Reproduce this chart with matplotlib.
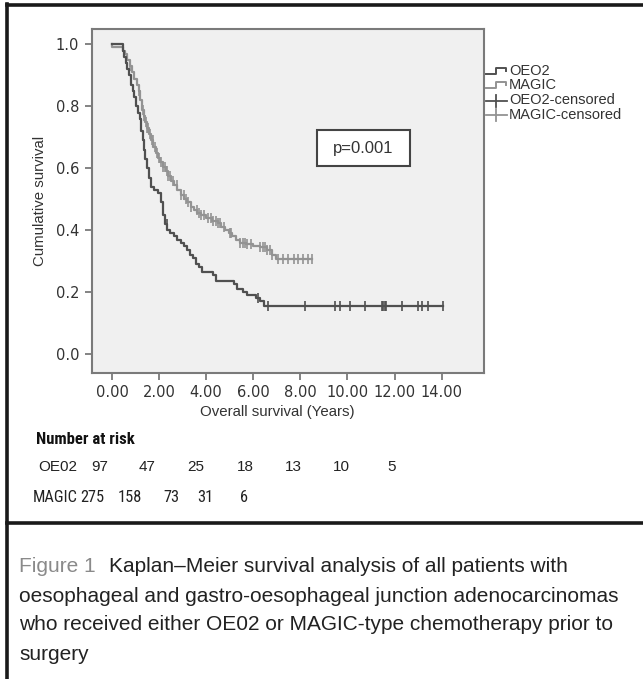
import numpy as np
import matplotlib
matplotlib.use('Agg')
import matplotlib.pyplot as plt
from matplotlib.lines import Line2D
from matplotlib.patches import Rectangle
from matplotlib import font_manager as fm

# ---------------- data ----------------
oeo2_t = [0.0, 0.45, 0.52, 0.58, 0.64, 0.72, 0.80, 0.88, 0.95, 1.02, 1.10, 1.18,
          1.24, 1.30, 1.36, 1.42, 1.50, 1.58, 1.66, 1.80, 1.96, 2.08, 2.16, 2.24,
          2.34, 2.45, 2.62, 2.78, 2.92, 3.05, 3.18, 3.32, 3.45, 3.58, 3.70, 3.82,
          4.30, 4.42, 5.20, 5.30, 5.55, 5.75, 6.10, 6.30, 6.45]
oeo2_s = [1.0, 0.98, 0.96, 0.94, 0.92, 0.90, 0.87, 0.85, 0.83, 0.80, 0.78, 0.76,
          0.72, 0.69, 0.66, 0.63, 0.60, 0.57, 0.54, 0.53, 0.52, 0.49, 0.45, 0.42,
          0.40, 0.39, 0.38, 0.37, 0.36, 0.35, 0.335, 0.32, 0.31, 0.29, 0.28, 0.265,
          0.255, 0.235, 0.225, 0.21, 0.20, 0.19, 0.18, 0.17, 0.157]
oeo2_end = 14.04
oeo2_cens = [2.33, 6.22, 6.64, 8.20, 9.47, 9.69, 10.11, 10.75, 11.45, 11.52, 11.60,
             11.65, 12.30, 13.0, 13.15, 13.43, 14.04]

magic_t = [0.0, 0.02, 0.45, 0.55, 0.65, 0.75, 0.85, 0.95, 1.05, 1.13, 1.20, 1.27,
           1.34, 1.41, 1.50, 1.58, 1.66, 1.76, 1.86, 1.96, 2.06, 2.16, 2.28, 2.40,
           2.52, 2.64, 2.78, 2.92, 3.06, 3.20, 3.34, 3.48, 3.62, 3.80, 4.00, 4.25,
           4.50, 4.65, 4.80, 4.95, 5.10, 5.25, 5.45, 5.70, 6.00, 6.30, 6.60, 6.80, 6.95]
magic_s = [1.0, 0.993, 0.98, 0.97, 0.95, 0.93, 0.91, 0.89, 0.87, 0.85, 0.82, 0.79,
           0.77, 0.75, 0.73, 0.71, 0.69, 0.67, 0.65, 0.635, 0.62, 0.605, 0.59, 0.575,
           0.56, 0.545, 0.53, 0.515, 0.50, 0.49, 0.475, 0.465, 0.455, 0.45, 0.44, 0.43,
           0.425, 0.41, 0.40, 0.39, 0.38, 0.37, 0.36, 0.355, 0.35, 0.345, 0.335, 0.32, 0.307]
magic_end = 8.49
magic_cens = [0.78, 1.13, 1.30, 1.38, 1.45, 1.50, 1.55, 1.62, 1.68, 1.75, 1.82, 1.90,
              2.0, 2.1, 2.18, 2.25, 2.32, 2.40, 2.48, 2.6, 2.75, 2.95, 3.05, 3.15,
              3.25, 3.35, 3.6, 3.7, 3.8, 3.9, 4.1, 4.2, 4.3, 4.4, 4.5, 4.6, 4.75,
              5.0, 5.05, 5.45, 5.55, 5.65, 5.75, 5.9, 6.3, 6.4, 6.5, 6.6, 6.7, 6.8,
              7.07, 7.28, 7.49, 7.71, 7.92, 8.13, 8.34, 8.49]

x_ticks = [0, 2, 4, 6, 8, 10, 12, 14]
y_ticks = [0.0, 0.2, 0.4, 0.6, 0.8, 1.0]
legend_labels = ['OEO2', 'MAGIC', 'OEO2-censored', 'MAGIC-censored']
p_text = 'p=0.001'
risk_oe02 = ['97', '47', '25', '18', '13', '10', '5']
risk_magic = ['275', '158', '73', '31', '6']
caption_head = 'Figure 1'
caption_lines = ['Kaplan\u2013Meier survival analysis of all patients with',
                 'oesophageal and gastro-oesophageal junction adenocarcinomas',
                 'who received either OE02 or MAGIC-type chemotherapy prior to',
                 'surgery']

# ---------------- layout ----------------
W, H = 643, 679
fig = plt.figure(figsize=(W / 100, H / 100), dpi=100)
fig.patch.set_facecolor('white')

def fx(px):
    return px / W

def fy(py):
    return 1 - py / H

names = {f.name for f in fm.fontManager.ttflist}
SANS = 'Liberation Sans'
NARROW = None
for cand in ['Liberation Sans Narrow', 'Roboto Condensed', 'Open Sans Condensed',
             'Noto Sans Condensed']:
    if cand in names:
        NARROW = cand
        break
if NARROW is None:
    NARROW = SANS
    narrow_scale = 0.86
else:
    narrow_scale = 1.0

C_OE = '#505050'
C_MA = '#939393'
SPINE = '#7a7a7a'

ax_l, ax_r, ax_t, ax_b = 91.7, 484, 29, 372.7
ax = fig.add_axes([fx(ax_l), fy(ax_b), (ax_r - ax_l) / W, (ax_b - ax_t) / H])
ax.set_facecolor('#f0f0f0')
ax.set_xlim(-0.86, 15.8)
ax.set_ylim(-0.06, 1.05)
for sp in ax.spines.values():
    sp.set_color(SPINE)
    sp.set_linewidth(1.5)

def km(t, s, end):
    tt = np.append(np.asarray(t, float), end)
    ss = np.append(np.asarray(s, float), s[-1])
    return tt, ss

def cens_y(t, s, c):
    t = np.asarray(t, float)
    s = np.asarray(s, float)
    idx = np.searchsorted(t, np.asarray(c, float), side='right') - 1
    return s[idx]

tt, ss = km(magic_t, magic_s, magic_end)
ax.step(tt, ss, where='post', color=C_MA, lw=1.6, zorder=3)
ax.plot(magic_cens, cens_y(magic_t, magic_s, magic_cens), ls='none', marker='|',
        ms=7, mew=1.2, color=C_MA, zorder=3)

tt, ss = km(oeo2_t, oeo2_s, oeo2_end)
ax.step(tt, ss, where='post', color=C_OE, lw=1.6, zorder=4)
ax.plot(oeo2_cens, cens_y(oeo2_t, oeo2_s, oeo2_cens), ls='none', marker='|',
        ms=7, mew=1.2, color=C_OE, zorder=4)

ax.set_xticks(x_ticks)
ax.set_xticklabels(['%.2f' % v for v in x_ticks])
ax.set_yticks(y_ticks)
ax.set_yticklabels(['%.1f' % v for v in y_ticks])
ax.tick_params(axis='both', direction='out', length=5, width=1.3, color=SPINE,
               labelcolor='#333333', labelsize=10.5, pad=4)
for lab in ax.get_xticklabels() + ax.get_yticklabels():
    lab.set_family('DejaVu Sans')

ax.set_xlabel('Overall survival (Years)', fontsize=10.8, family=SANS, color='#333333',
              labelpad=3)
ax.xaxis.set_label_coords((277 - ax_l) / (ax_r - ax_l), -0.095)
ax.set_ylabel('Cumulative survival', fontsize=10.8, family=SANS, color='#333333',
              labelpad=6)

# p-value box
fig.patches.append(Rectangle((fx(317), fy(166)), 93 / W, 36 / H, transform=fig.transFigure,
                             facecolor='white', edgecolor='#444444', lw=1.5, zorder=5))
fig.text(fx(363.5), fy(148), p_text, ha='center', va='center', fontsize=12,
         family=SANS, color='#333333', zorder=6)

# legend (outside plot)
leg_y = [71, 85, 100.5, 115]
for i, lab in enumerate(legend_labels):
    y = leg_y[i]
    col = C_OE if i % 2 == 0 else C_MA
    if i < 2:
        xs = [fx(486), fx(496), fx(496), fx(506), fx(506)]
        ys = [fy(y + 3), fy(y + 3), fy(y - 3), fy(y - 3), fy(y)]
        fig.add_artist(Line2D(xs, ys, color=col, lw=1.4, transform=fig.transFigure))
    else:
        fig.add_artist(Line2D([fx(486), fx(507)], [fy(y), fy(y)], color=col, lw=1.3,
                              transform=fig.transFigure))
        fig.add_artist(Line2D([fx(495.5), fx(495.5)], [fy(y - 6), fy(y + 6)], color=col,
                              lw=1.3, transform=fig.transFigure))
    fig.text(fx(509), fy(y), lab, ha='left', va='center', fontsize=10.5, family=SANS,
             color='#333333')

# number at risk table
fig.text(fx(36), fy(439), 'Number at risk', ha='left', va='center',
         fontsize=12 * narrow_scale, family=NARROW, weight='bold', color='#111111')
fig.text(fx(38), fy(467), 'OE02', ha='left', va='center', fontsize=11, family=SANS,
         color='#222222')
oe_x = [100, 147, 196, 245, 293, 341, 392]
for v, x in zip(risk_oe02, oe_x):
    fig.text(fx(x), fy(467), v, ha='center', va='center', fontsize=11, family=SANS,
             color='#222222')
fig.text(fx(33), fy(498), 'MAGIC', ha='left', va='center', fontsize=11.8 * narrow_scale,
         family=NARROW, color='#222222')
ma_x = [92, 130, 171, 205, 244]
for v, x in zip(risk_magic, ma_x):
    fig.text(fx(x), fy(498), v, ha='center', va='center', fontsize=11.8 * narrow_scale,
             family=NARROW, color='#222222')

# frame lines
frame = dict(color='#1a1a1a', lw=2.6, transform=fig.transFigure)
fig.add_artist(Line2D([fx(7), fx(7)], [fy(4), 0], **frame))
fig.add_artist(Line2D([fx(7), 1], [fy(5), fy(5)], **frame))
fig.add_artist(Line2D([fx(7), 1], [fy(523), fy(523)], **frame))

# caption
cap_y = [566, 596, 625, 654]
renderer = fig.canvas.get_renderer()
head = fig.text(fx(19), fy(cap_y[0]), caption_head, ha='left', va='center', fontsize=15,
                family=SANS, color='#8a8a8a')
bb = head.get_window_extent(renderer)
fig.text((bb.x1 + 13) / W, fy(cap_y[0]), caption_lines[0], ha='left', va='center',
         fontsize=15, family=SANS, color='#222222')
for y, line in zip(cap_y[1:], caption_lines[1:]):
    fig.text(fx(19), fy(y), line, ha='left', va='center', fontsize=15, family=SANS,
             color='#222222')

fig.savefig('out.png', dpi=100, facecolor='white')
